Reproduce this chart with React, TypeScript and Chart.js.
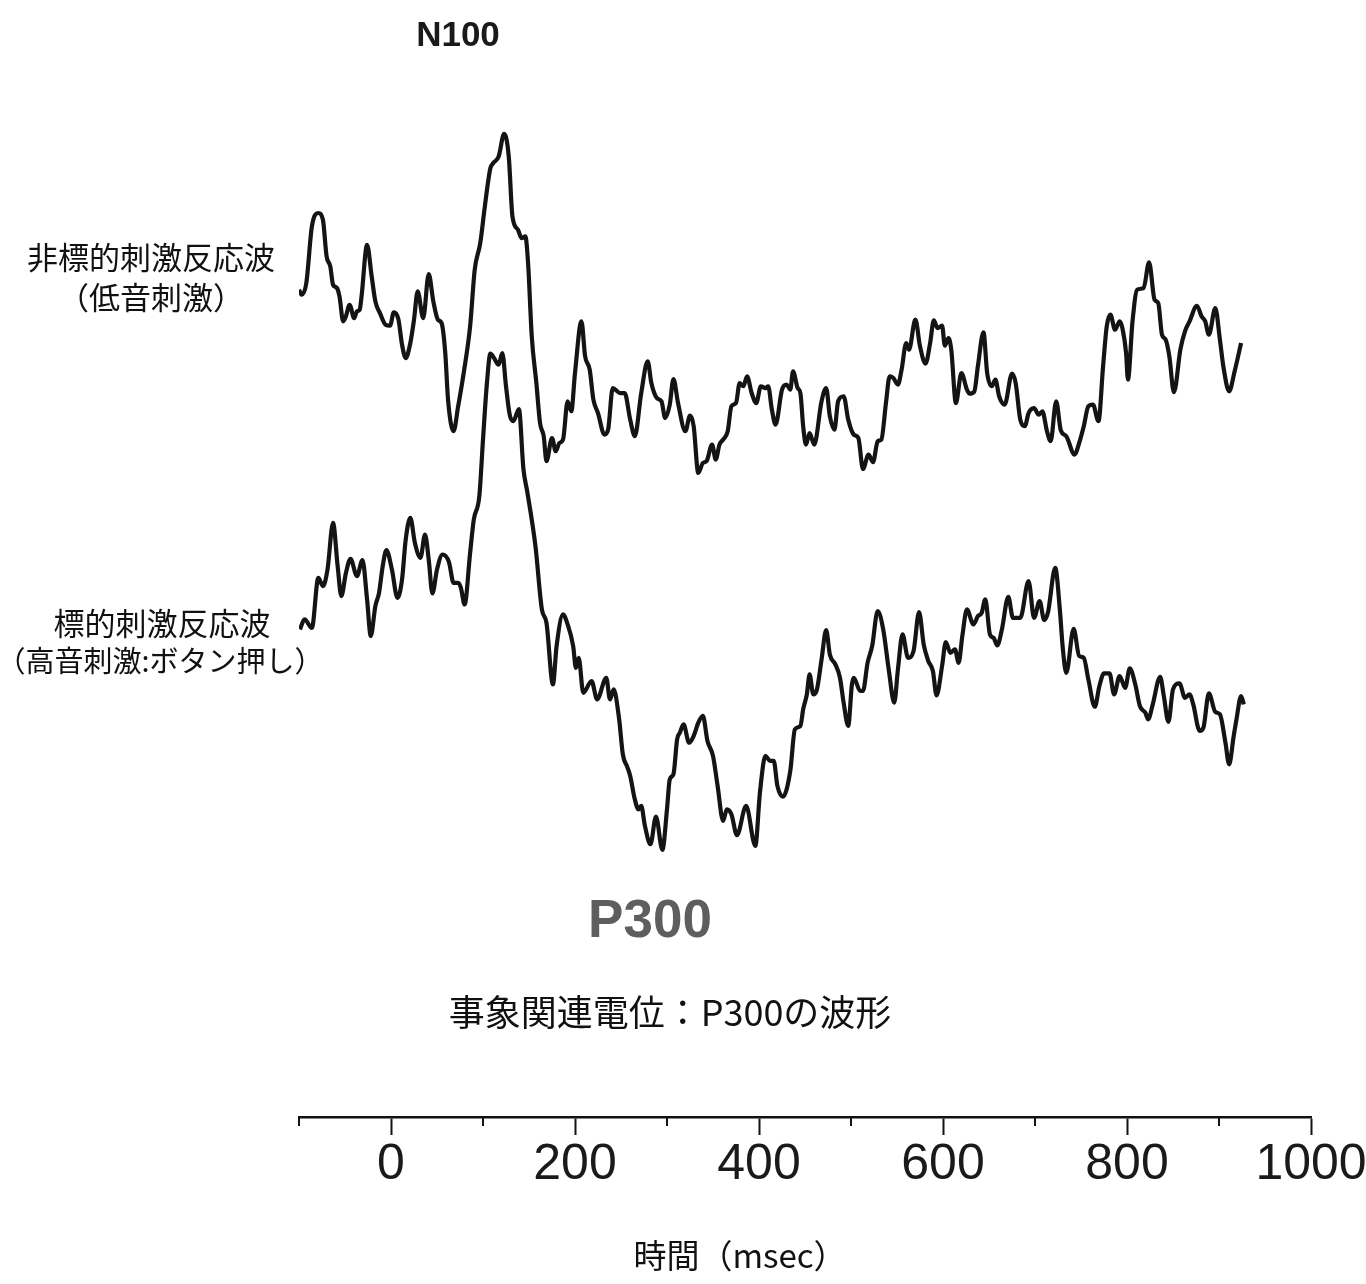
import React, { useEffect, useRef } from "react";
import { Chart, registerables } from "chart.js";

Chart.register(...registerables);

// ---- Data (time in msec, amplitude in µV, negative plotted upward) ----
const nonTargetTimes = [
  -100, -97, -92, -86, -79, -74, -70, -66, -63, -59, -56, -52, -49, -45, -40, -37, -34, -32, -26, -21,
  -17, -12, -6, -1, 3, 8, 12, 16, 21, 25, 29, 35, 41, 46, 51, 55, 59, 62, 68, 73,
  79, 86, 91, 97, 102, 108, 111, 117, 123, 128, 132, 138, 142, 146, 149, 153, 158, 162, 166, 169,
  175, 179, 183, 187, 192, 196, 200, 207, 211, 216, 220, 225, 232, 236, 241, 249, 254, 260, 265, 272,
  279, 283, 289, 294, 298, 303, 307, 312, 320, 325, 329, 334, 339, 343, 349, 353, 357, 361, 366, 370,
  375, 379, 383, 387, 392, 397, 402, 407, 410, 414, 418, 425, 430, 434, 437, 442, 445, 448, 451, 455,
  460, 468, 473, 477, 482, 486, 492, 497, 503, 508, 513, 519, 524, 529, 533, 538, 542, 546, 551, 555,
  560, 563, 570, 575, 581, 586, 590, 594, 599, 602, 606, 609, 614, 620, 626, 629, 634, 638, 644, 648,
  653, 657, 661, 667, 675, 679, 684, 689, 693, 699, 704, 708, 713, 717, 723, 728, 734, 743, 748, 753,
  758, 763, 769, 774, 778, 782, 787, 792, 795, 799, 801, 806, 811, 818, 824, 830, 834, 838, 842, 846,
  851, 858, 863, 868, 876, 881, 885, 889, 896, 901, 905, 911, 917, 924,
];
const nonTargetAmp = [
  -2.0, -1.75, -2.35, -5.17, -5.84, -5.5, -3.67, -3.17, -2.25, -2.1, -1.67, -0.42, -0.67, -1.25, -0.58, -0.92, -1.0, -1.67, -4.25, -2.67,
  -1.42, -0.83, -0.25, -0.2, -0.87, -0.53, 0.75, 1.42, 0.67, -0.5, -1.92, -0.58, -2.78, -1.42, -0.5, -0.33, 1.17, 3.5, 5.08, 3.83,
  2.17, -0.17, -3.0, -4.33, -6.17, -8.08, -8.33, -8.67, -9.8, -8.67, -5.67, -5.0, -4.58, -4.67, -3.33, 0.33, 2.67, 4.67, 5.33, 6.58,
  5.42, 6.08, 5.67, 5.5, 3.58, 4.08, 2.17, -0.42, 1.33, 2.0, 3.5, 4.17, 5.25, 5.0, 2.92, 3.17, 3.17, 4.5, 5.33, 3.17,
  1.58, 2.67, 3.42, 3.58, 4.42, 3.75, 2.47, 3.67, 5.08, 4.3, 4.83, 7.17, 6.67, 6.58, 5.75, 6.5, 5.75, 5.5, 5.08, 3.83,
  3.67, 2.67, 2.83, 2.33, 3.17, 3.67, 2.83, 2.92, 2.83, 4.0, 4.75, 3.0, 2.75, 3.0, 2.08, 2.92, 3.17, 4.83, 5.75, 5.17,
  5.75, 3.58, 2.92, 4.33, 5.0, 3.58, 3.33, 4.5, 5.25, 5.42, 6.97, 6.25, 6.63, 5.58, 5.5, 3.67, 2.33, 2.42, 2.75, 2.0,
  0.67, 1.0, -0.5, 0.83, 1.7, 0.67, -0.47, -0.08, -0.2, 0.8, 0.42, 1.0, 3.67, 2.17, 3.0, 3.2, 3.1, 1.8, 0.13, 2.17,
  2.83, 2.5, 3.33, 3.75, 2.2, 2.67, 4.5, 4.83, 4.17, 3.92, 4.25, 4.08, 5.08, 5.58, 3.58, 5.03, 5.33, 6.25, 5.67, 4.83,
  3.83, 3.75, 4.58, 1.83, -0.17, -0.75, 0.0, -0.42, -0.08, 1.17, 2.5, -0.42, -2.0, -2.08, -3.37, -1.5, -1.33, 0.25, 0.5, 1.33,
  3.13, 1.0, 0.08, -0.42, -1.2, -0.67, -0.42, 0.25, -1.08, 0.5, 1.92, 3.08, 2.08, 0.67,
];

const targetTimes = [
  -99, -94, -86, -79, -74, -69, -63, -58, -54, -49, -44, -37, -31, -26, -22, -17, -13, -9, -5, 1,
  7, 12, 16, 21, 26, 32, 37, 41, 45, 50, 56, 63, 68, 73, 76, 80, 86, 90, 96, 100,
  104, 108, 112, 117, 121, 125, 129, 133, 139, 144, 148, 157, 164, 169, 176, 180, 187, 192, 198, 201,
  204, 209, 218, 224, 234, 238, 242, 248, 252, 257, 260, 265, 269, 272, 276, 282, 288, 295, 300, 303,
  307, 311, 314, 318, 324, 329, 334, 339, 344, 350, 355, 361, 365, 370, 376, 386, 396, 401, 407, 412,
  416, 420, 426, 434, 439, 445, 448, 452, 455, 459, 463, 468, 473, 477, 483, 488, 492, 497, 501, 503,
  510, 513, 518, 523, 529, 535, 541, 547, 551, 556, 562, 568, 574, 579, 584, 589, 593, 599, 603, 608,
  613, 617, 621, 626, 633, 638, 642, 646, 651, 655, 659, 664, 671, 676, 684, 693, 699, 705, 710, 714,
  722, 727, 730, 734, 742, 748, 753, 758, 765, 770, 775, 781, 786, 792, 798, 803, 809, 814, 820, 823,
  828, 836, 840, 845, 850, 857, 863, 868, 872, 879, 883, 889, 896, 901, 907, 911, 916, 919, 924, 927,
];
const targetAmp = [
  2.5, 2.0, 2.42, -0.08, 0.33, -0.5, -2.83, -0.67, 0.83, -0.33, -1.03, -0.17, -0.97, 1.0, 2.83, 1.33, 0.67, -0.67, -1.47, -0.5,
  0.92, 0.0, -2.0, -3.08, -1.83, -1.08, -2.25, -1.0, 0.7, -0.5, -1.25, -0.87, 0.17, 0.17, 0.42, 1.25, -1.33, -3.0, -4.17, -7.0,
  -9.67, -11.3, -11.08, -10.75, -11.33, -9.67, -8.25, -7.92, -8.53, -5.5, -4.42, -1.67, 1.5, 2.17, 5.25, 3.33, 1.75, 2.25, 3.33, 4.42,
  3.92, 5.67, 5.08, 6.0, 4.92, 6.0, 5.5, 7.0, 8.75, 9.4, 9.83, 11.0, 11.5, 11.33, 12.33, 13.25, 11.87, 13.53, 11.5, 10.0,
  9.75, 8.0, 7.67, 7.25, 8.17, 7.83, 7.17, 6.83, 8.08, 8.83, 10.33, 12.08, 11.5, 11.75, 12.8, 11.33, 13.33, 10.67, 8.83, 9.08,
  9.08, 10.33, 10.87, 9.58, 7.5, 7.33, 6.5, 5.75, 4.75, 5.75, 5.5, 4.0, 2.53, 3.75, 4.25, 4.92, 6.17, 7.33, 5.25, 4.92,
  5.58, 5.58, 4.17, 3.33, 1.58, 2.5, 4.5, 6.17, 4.5, 2.75, 3.92, 3.58, 1.63, 3.25, 4.08, 4.58, 5.8, 4.33, 3.13, 3.67,
  3.5, 4.17, 2.83, 1.5, 2.25, 1.83, 1.67, 1.0, 2.75, 2.92, 3.3, 2.5, 0.87, 1.92, 1.92, 0.08, 1.92, 1.08, 2.03, 1.67,
  -0.58, 1.5, 3.33, 4.67, 2.47, 3.83, 3.92, 5.0, 6.37, 5.33, 4.7, 4.7, 5.75, 4.83, 5.42, 4.45, 5.25, 6.33, 6.67, 7.0,
  6.25, 4.87, 5.83, 7.13, 5.5, 5.2, 5.92, 5.75, 6.25, 7.58, 7.42, 5.7, 6.63, 6.75, 8.17, 9.25, 7.83, 7.0, 5.83, 6.25,
];

// Axis range and labels
const X_MIN = -100;
const X_MAX = 1000;
const X_STEP = 100;
const X_LABEL_STEP = 200;

// Text content
const N100_LABEL = "N100";
const P300_LABEL = "P300";
const NON_TARGET_LABEL = ["非標的刺激反応波", "（低音刺激）"];
const TARGET_LABEL = ["標的刺激反応波", "（高音刺激:ボタン押し）"];
const SUBTITLE = "事象関連電位：P300の波形";
const X_TITLE = "時間（msec）";

// ---- Layout / style constants ----
const W = 1366;
const H = 1284;
const Y_MIN = -16.5;
const Y_MAX = 39.4;
const NON_TARGET_OFFSET = 0;
const TARGET_OFFSET = 12.5;
const JP = "'Noto Sans CJK JP', 'Noto Sans', sans-serif";
const LAT = "'Liberation Sans', Arial, sans-serif";

function toPoints(times: number[], amps: number[], offset: number) {
  return times.map((t, i) => ({ x: t, y: amps[i] + offset }));
}

const decorPlugin = {
  id: "decor",
  afterDraw(chart: any) {
    const { ctx, chartArea } = chart;
    const xs = chart.scales.x;
    ctx.save();
    // minor tick marks
    ctx.strokeStyle = "#111";
    ctx.lineWidth = 2;
    for (const t of xs.ticks) {
      if (t.value % X_LABEL_STEP !== 0) {
        const px = Math.round(xs.getPixelForValue(t.value));
        ctx.beginPath();
        ctx.moveTo(px, chartArea.bottom);
        ctx.lineTo(px, chartArea.bottom + 9);
        ctx.stroke();
      }
    }
    ctx.textAlign = "center";
    ctx.textBaseline = "middle";
    const put = (text: string, x: number, y: number, font: string, color: string) => {
      ctx.font = font;
      ctx.fillStyle = color;
      ctx.fillText(text, x, y);
    };
    put(N100_LABEL, 458, 36, `bold 35px ${LAT}`, "#1a1a1a");
    put(NON_TARGET_LABEL[0], 151, 257, `31px ${JP}`, "#111");
    put(NON_TARGET_LABEL[1], 151, 297, `31px ${JP}`, "#111");
    put(TARGET_LABEL[0], 162, 623, `31px ${JP}`, "#111");
    put(TARGET_LABEL[1], 160, 661, `29px ${JP}`, "#111");
    put(P300_LABEL, 650, 922, `bold 53px ${LAT}`, "#5e5e5e");
    put(SUBTITLE, 670, 1012, `36px ${JP}`, "#111");
    put(X_TITLE, 740, 1255, `33px ${JP}`, "#111");
    ctx.restore();
  },
};

export default function App() {
  const ref = useRef<HTMLCanvasElement | null>(null);

  useEffect(() => {
    if (!ref.current) return;
    const lineStyle = {
      borderColor: "#141414",
      borderWidth: 4.2,
      pointRadius: 0,
      cubicInterpolationMode: "monotone" as const,
      fill: false,
    };
    const chart = new Chart(ref.current, {
      type: "line",
      data: {
        datasets: [
          { label: NON_TARGET_LABEL.join(""), data: toPoints(nonTargetTimes, nonTargetAmp, NON_TARGET_OFFSET), ...lineStyle },
          { label: TARGET_LABEL.join(""), data: toPoints(targetTimes, targetAmp, TARGET_OFFSET), ...lineStyle },
        ],
      },
      options: {
        animation: false,
        responsive: false,
        devicePixelRatio: 1,
        layout: { padding: { left: 299, right: 55, top: 0, bottom: 0 } },
        plugins: { legend: { display: false }, tooltip: { enabled: false }, title: { display: false } },
        scales: {
          x: {
            type: "linear",
            min: X_MIN,
            max: X_MAX,
            afterFit: (scale: any) => {
              scale.height = 167;
              scale.paddingLeft = 0;
              scale.paddingRight = 0;
            },
            ticks: {
              stepSize: X_STEP,
              autoSkip: false,
              maxRotation: 0,
              padding: 5,
              color: "#1a1a1a",
              font: { family: "'Liberation Sans', Arial, sans-serif", size: 50, lineHeight: 1 },
              callback: (v: any) => (Number(v) % X_LABEL_STEP === 0 ? String(v) : ""),
            },
            grid: {
              drawOnChartArea: false,
              drawTicks: true,
              tickLength: 18,
              tickWidth: 2,
              tickColor: (c: any) => (c.tick && c.tick.value % X_LABEL_STEP === 0 ? "#111" : "rgba(0,0,0,0)"),
            },
            border: { display: true, color: "#111", width: 2.5 },
          },
          y: {
            type: "linear",
            display: false,
            reverse: true,
            min: Y_MIN,
            max: Y_MAX,
          },
        },
      },
      plugins: [decorPlugin],
    });
    return () => chart.destroy();
  }, []);

  return (
    <div style={{ position: "absolute", left: 0, top: 0, width: W, height: H, background: "#fff" }}>
      <canvas ref={ref} width={W} height={H} style={{ display: "block" }} />
    </div>
  );
}
